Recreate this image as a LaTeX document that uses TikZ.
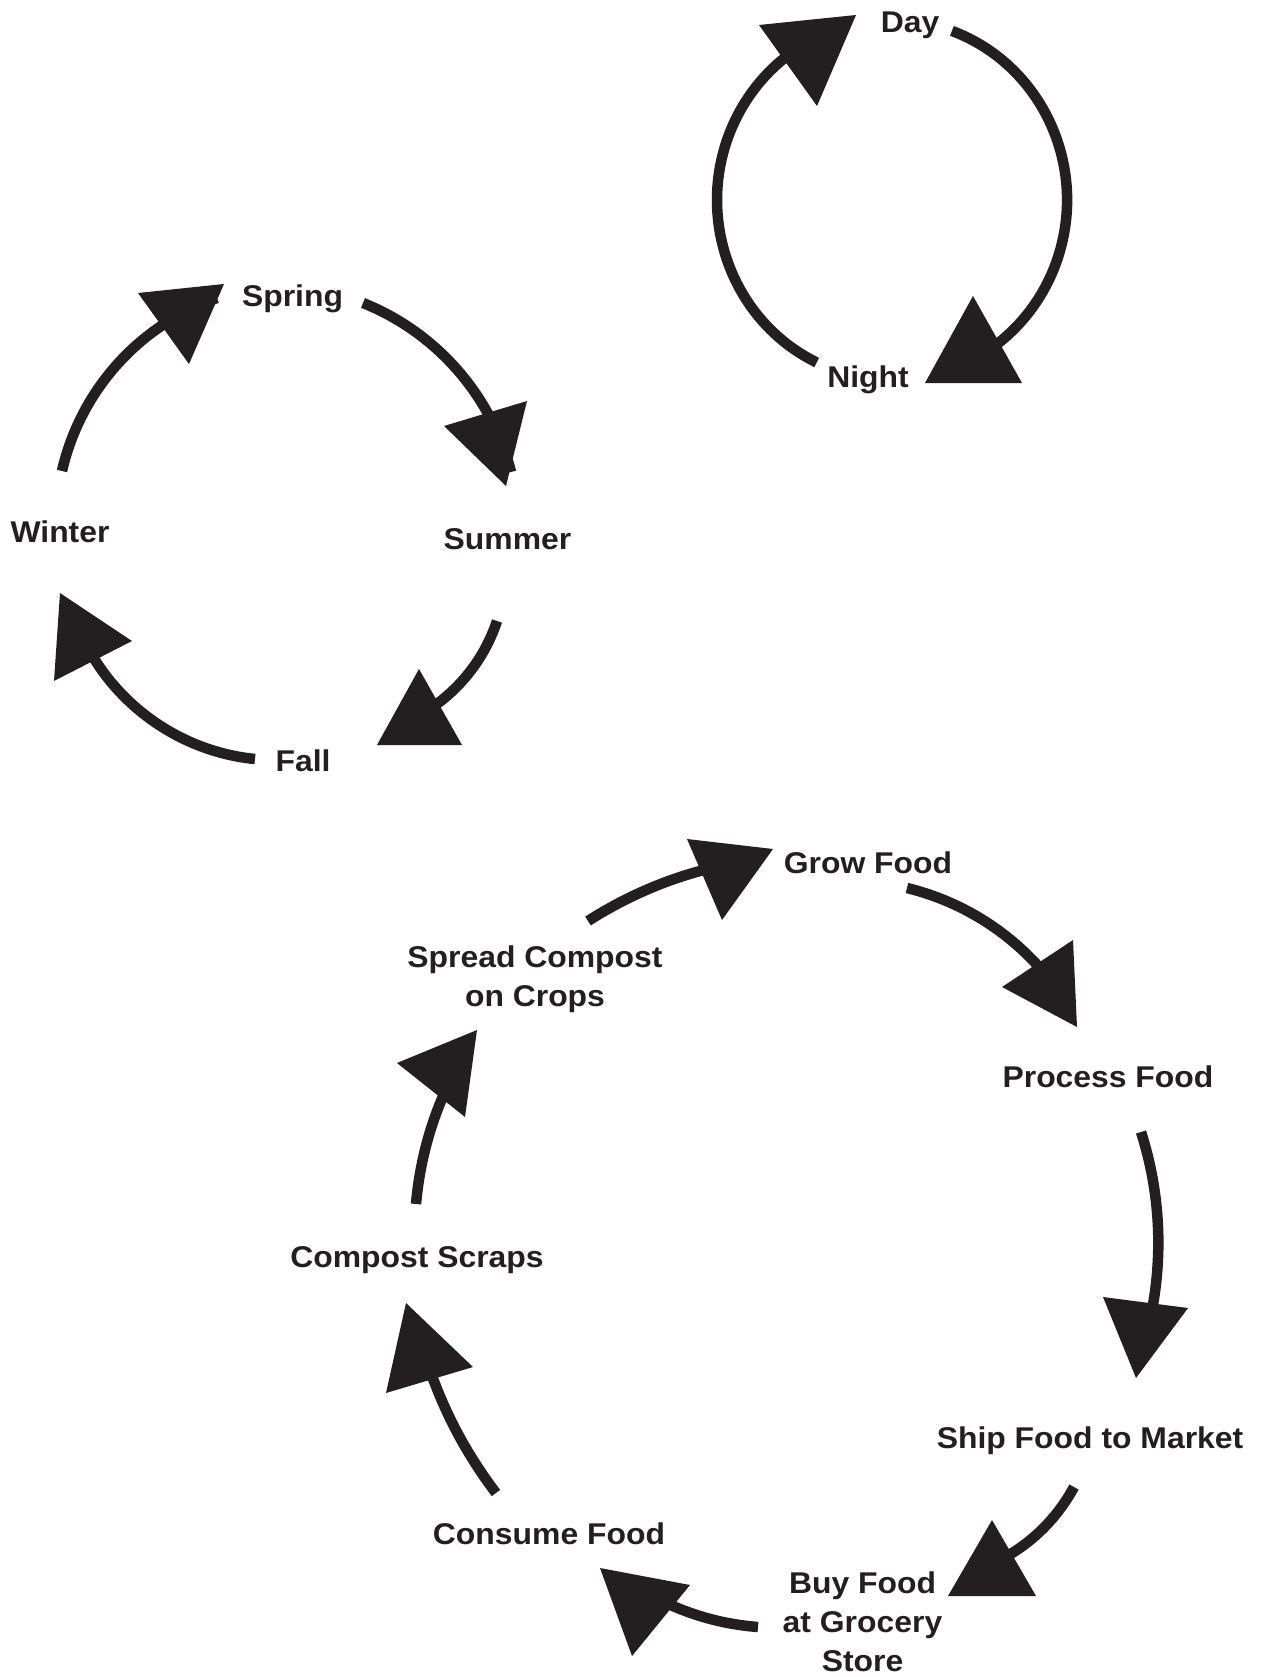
\documentclass[tikz,border=0pt]{standalone}
\usepackage{fontspec}
\newfontfamily\labfont[FakeStretch=1.063]{Liberation Sans}
\definecolor{ink}{RGB}{35,31,32}
\begin{document}
\begin{tikzpicture}[x=1pt,y=1pt,
  lab/.style={font=\labfont\bfseries\fontsize{30}{39}\selectfont, text=ink, inner sep=0pt, anchor=base, align=center},
  cyc/.style={draw=ink, line width=10.5pt},
  head/.style={fill=ink}]
\useasboundingbox (0,0) rectangle (1260,-1677);
\fill[white] (0,0) rectangle (1260,-1677);

% ---------- labels (multi-line: anchor base = last line) ----------
\node[lab] (day) at (910,-33) {Day};
\node[lab] (night) at (868,-387) {Night};
\node[lab] (spring) at (292.5,-307) {Spring};
\node[lab] (summer) at (507.5,-549) {Summer};
\node[lab] (winter) at (60,-542) {Winter};
\node[lab] (fall) at (303,-771) {Fall};
\node[lab] (grow) at (868,-873) {Grow Food};
\node[lab] (process) at (1108,-1087) {Process Food};
\node[lab] (ship) at (1090,-1448) {Ship Food to Market};
\node[lab] (buy) at (862.5,-1671) {Buy Food\\at Grocery\\Store};
\node[lab] (consume) at (549,-1544) {Consume Food};
\node[lab] (compost) at (417,-1267) {Compost Scraps};
\node[lab] (spread) at (535,-1006) {Spread Compost\\on Crops};

% ---------- day / night ----------
\coordinate (dn1) at (951.9,-30.9);
\coordinate (nd1) at (816.7,-362.5);
\draw[cyc] (dn1) arc[start angle=70,end angle=-58,x radius=175,y radius=180];
\draw[cyc] (nd1) arc[start angle=244.5,end angle=122,x radius=175,y radius=180];
\fill[head] (759,-25) -- (856,-15) -- (817,-106) -- cycle;
\fill[head] (973,-296) -- (925,-383) -- (1022,-383) -- cycle;

% ---------- seasons ----------
\coordinate (sp1) at (363,-303);  \coordinate (sp2) at (511,-472);
\coordinate (su1) at (497,-621);  \coordinate (su2) at (425,-712);
\coordinate (fa1) at (255,-759);  \coordinate (fa2) at (88,-648);
\coordinate (wi1) at (62,-471);   \coordinate (wi2) at (217,-298);
\draw[cyc] (sp1) to[bend left=27,looseness=0.9] (sp2);
\draw[cyc] (su1) to[bend left=20,looseness=0.88] (su2);
\draw[cyc] (fa1) to[bend left=28,looseness=0.9] (fa2);
\draw[cyc] (wi1) to[bend left=29,looseness=0.91] (wi2);
\fill[head] (138,-293) -- (224,-284) -- (189,-364) -- cycle;
\fill[head] (444,-426) -- (527,-401) -- (506,-486) -- cycle;
\fill[head] (419,-669) -- (377,-745) -- (462,-745) -- cycle;
\fill[head] (60,-593) -- (132,-641) -- (54,-681) -- cycle;

% ---------- food cycle ----------
\coordinate (gr1) at (588,-921);   \coordinate (gr2) at (720,-866);
\coordinate (pr1) at (907,-888);   \coordinate (pr2) at (1050,-980);
\coordinate (sh1) at (1141,-1132); \coordinate (sh2) at (1150,-1320);
\coordinate (bu1) at (1074,-1487); \coordinate (bu2) at (1000,-1560);
\coordinate (co1) at (758,-1627);  \coordinate (co2) at (660,-1600);
\coordinate (cs1) at (496,-1493);  \coordinate (cs2) at (425,-1355);
\coordinate (sc1) at (416,-1204);  \coordinate (sc2) at (448,-1085);
\draw[cyc] (gr1) to[bend left=10,looseness=0.87] (gr2);
\draw[cyc] (pr1) to[bend left=19,looseness=0.88] (pr2);
\draw[cyc] (sh1) to[bend left=15,looseness=0.87] (sh2);
\draw[cyc] (bu1) to[bend left=17,looseness=0.875] (bu2);
\draw[cyc] (co1) to[bend left=11,looseness=0.87] (co2);
\draw[cyc] (cs1) to[bend left=10,looseness=0.87] (cs2);
\draw[cyc] (sc1) to[bend left=10,looseness=0.87] (sc2);
\fill[head] (687,-839) -- (773,-849) -- (722,-920) -- cycle;
\fill[head] (1073,-940) -- (1077,-1027) -- (1002,-987) -- cycle;
\fill[head] (1103,-1297) -- (1188,-1308) -- (1136,-1378) -- cycle;
\fill[head] (992,-1520) -- (948,-1596) -- (1036,-1596) -- cycle;
\fill[head] (600,-1568) -- (690,-1585) -- (632,-1656) -- cycle;
\fill[head] (406,-1303) -- (473,-1367) -- (386,-1393) -- cycle;
\fill[head] (397,-1063) -- (477,-1030) -- (465,-1117) -- cycle;
\end{tikzpicture}
\end{document}
